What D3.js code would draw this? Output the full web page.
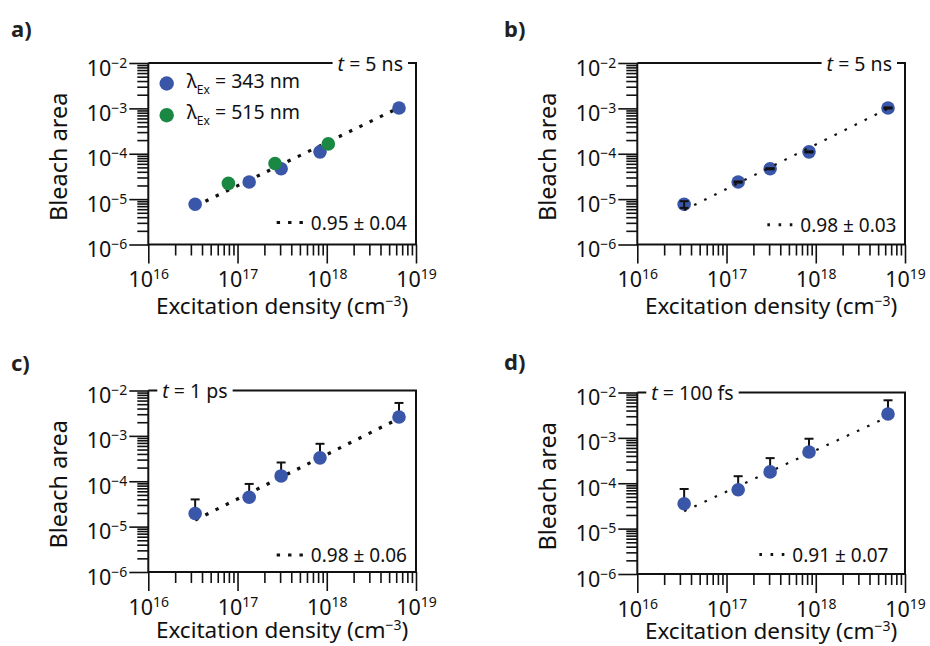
<!DOCTYPE html>
<html>
<head>
<meta charset="utf-8">
<script src="https://cdn.jsdelivr.net/npm/d3@7"></script>
<style>
  body { margin: 0; background: #fff; }
  svg { font-family: "Noto Sans", sans-serif; display: block; }
</style>
</head>
<body>
<div id="chart"></div>
<script>
// Excitation density (cm^-3) for the two pump wavelengths
const density343 = [3.35e16, 1.35e17, 3.08e17, 8.4e17, 6.45e18];
const density515 = [7.9e16, 2.63e17, 1.04e18];

// Bleach area at t = 5 ns (panels a and b)
const bleach5ns343 = [7.7e-6, 2.38e-5, 4.67e-5, 1.1e-4, 1.02e-3];
const bleach5ns515 = [2.22e-5, 6.1e-5, 1.65e-4];
const bleach5nsErr = [1.3e-6, 7e-7, 1.4e-6, 3.3e-6, 3e-5];

// Bleach area at t = 1 ps (panel c) and t = 100 fs (panel d), upper errors only
const bleach1ps = [1.95e-5, 4.43e-5, 1.31e-4, 3.28e-4, 2.61e-3];
const bleach1psErr = [2.03e-5, 4.3e-5, 1.28e-4, 3.41e-4, 2.71e-3];
const bleach100fs = [3.53e-5, 7.2e-5, 1.78e-4, 4.87e-4, 3.37e-3];
const bleach100fsErr = [3.95e-5, 7.1e-5, 1.8e-4, 4.7e-4, 3.37e-3];

// Power-law fits: log10(y) = intercept + slope * log10(x)
const fitSlopes = [0.95, 0.98, 0.98, 0.91];
const fitIntercepts = [-20.854, -21.436, -21.05, -19.654];
const fitLabels = ["0.95 ± 0.04", "0.98 ± 0.03", "0.98 ± 0.06", "0.91 ± 0.07"];

const panelLetters = ["a)", "b)", "c)", "d)"];
const delayValues = ["5 ns", "5 ns", "1 ps", "100 fs"];
const wavelengths = ["343", "515"];
const xTickPowers = [16, 17, 18, 19];
const yTickPowers = [-6, -5, -4, -3, -2];

const BLUE = "#3a56a8";
const GREEN = "#1a8843";

const width = 930, height = 646;
const plotW = 267.7, plotH = 181.5;

const svg = d3.select("#chart").append("svg")
  .attr("width", width).attr("height", height)
  .attr("viewBox", `0 0 ${width} ${height}`);
svg.append("rect").attr("width", width).attr("height", height).attr("fill", "#fff");

const isPower = (v) => Math.abs(Math.log10(v) - Math.round(Math.log10(v))) < 1e-9;
const pow10 = (p) => +("1e" + p);
const supText = (p) => (p < 0 ? "\u2212" + (-p) : "" + p);

function powerLabel(text, p) {
  text.text(null);
  text.append("tspan").text("10");
  text.append("tspan").attr("dy", -8).attr("font-size", 14).text(supText(p));
}

const panels = [
  { left: 148.3, top: 63, letterX: 11, letterY: 37, tAlign: "right", dash: "3.4 8", dashW: 3.2,
    series: [{ x: density343, y: bleach5ns343, color: BLUE }, { x: density515, y: bleach5ns515, color: GREEN }],
    legend: true, fitDy: 15, fitRight: 9, titleDy: 69 },
  { left: 637.3, top: 63, letterX: 504, letterY: 37, tAlign: "right", dash: "2.6 8.6", dashW: 2.2,
    series: [{ x: density343, y: bleach5ns343, color: BLUE, err: bleach5nsErr, both: true }],
    legend: false, fitDy: 12.7, fitRight: 8.5, titleDy: 69 },
  { left: 148.3, top: 390.5, letterX: 11, letterY: 371, tAlign: "left", dash: "3.4 8", dashW: 3.2,
    series: [{ x: density343, y: bleach1ps, color: BLUE, err: bleach1psErr }],
    legend: false, fitDy: 10, fitRight: 9, titleDy: 65.5 },
  { left: 637.3, top: 392.5, letterX: 504, letterY: 369.5, tAlign: "left", dash: "2.6 8.6", dashW: 2.2,
    series: [{ x: density343, y: bleach100fs, color: BLUE, err: bleach100fsErr }],
    legend: false, fitDy: 12.4, fitRight: 16.5, titleDy: 64.5 },
];

panels.forEach((cfg, i) => drawPanel(cfg, i));

function drawPanel(cfg, i) {
  const x = d3.scaleLog().domain([1e16, 1e19]).range([0, plotW]);
  const y = d3.scaleLog().domain([1e-6, 1e-2]).range([plotH, 0]);

  svg.append("text")
    .attr("x", cfg.letterX).attr("y", cfg.letterY)
    .attr("font-size", 22).attr("font-weight", "bold").attr("fill", "#231f20")
    .text(panelLetters[i]);

  const g = svg.append("g").attr("transform", `translate(${cfg.left},${cfg.top})`);

  // minor + major ticks
  const yMinor = d3.axisLeft(y).tickValues(y.ticks().filter((v) => !isPower(v))).tickSize(11).tickFormat("");
  const yMajor = d3.axisLeft(y).tickValues(yTickPowers.map(pow10)).tickSize(19).tickFormat("");
  const xMinor = d3.axisBottom(x).tickValues(x.ticks().filter((v) => !isPower(v))).tickSize(11).tickFormat("");
  const xMajor = d3.axisBottom(x).tickValues(xTickPowers.map(pow10)).tickSize(19).tickFormat("");

  const axes = [
    g.append("g").call(yMinor),
    g.append("g").call(yMajor),
    g.append("g").attr("transform", `translate(0,${plotH})`).call(xMinor),
    g.append("g").attr("transform", `translate(0,${plotH})`).call(xMajor),
  ];
  axes.forEach((a) => {
    a.select(".domain").remove();
    a.selectAll(".tick line").attr("stroke", "#111").attr("stroke-width", 1.6);
  });

  axes[1].selectAll(".tick text").each(function (d) {
    const t = d3.select(this);
    t.attr("x", -21).attr("dy", null).attr("y", 12).attr("font-size", 21.5)
      .attr("font-family", "Noto Sans").attr("fill", "#111");
    powerLabel(t, Math.round(Math.log10(d)));
  });
  axes[3].selectAll(".tick text").each(function (d) {
    const t = d3.select(this);
    t.attr("dy", null).attr("y", 42.5).attr("font-size", 21.5)
      .attr("font-family", "Noto Sans").attr("fill", "#111");
    powerLabel(t, Math.round(Math.log10(d)));
  });

  // frame
  g.append("path")
    .attr("d", `M0,0V${plotH}H${plotW}V0H0`)
    .attr("fill", "none").attr("stroke", "#111").attr("stroke-width", 2);

  // time-delay label breaking the top border
  const tText = g.append("text").attr("y", 7.5).attr("font-size", 19.5).attr("fill", "#111");
  tText.append("tspan").attr("font-style", "italic").text("t");
  tText.append("tspan").text(" = " + delayValues[i]);
  if (cfg.tAlign === "right") {
    tText.attr("text-anchor", "end").attr("x", plotW - 13);
  } else {
    tText.attr("x", 14);
  }
  const tb = tText.node().getBBox();
  g.insert("rect", function () { return tText.node(); })
    .attr("x", tb.x - 5).attr("y", -3).attr("width", tb.width + 10).attr("height", 6)
    .attr("fill", "#fff");

  // axis titles
  svg.append("text")
    .attr("transform", `translate(${cfg.left - 81.6},${cfg.top + plotH / 2 + 3}) rotate(-90)`)
    .attr("text-anchor", "middle").attr("font-size", 23.5).attr("fill", "#111")
    .text("Bleach area");
  const xt = svg.append("text")
    .attr("x", cfg.left + plotW / 2).attr("y", cfg.top + plotH + cfg.titleDy)
    .attr("text-anchor", "middle").attr("font-size", 22.5).attr("fill", "#111");
  xt.append("tspan").text("Excitation density (cm");
  xt.append("tspan").attr("dy", -8).attr("font-size", 14).text("\u22123");
  xt.append("tspan").attr("dy", 8).text(")");

  // fit line across the measured density range
  const xs = d3.extent(cfg.series[0].x);
  const fitY = (v) => Math.pow(10, fitIntercepts[i] + fitSlopes[i] * Math.log10(v));
  const line = d3.line().x((v) => x(v)).y((v) => y(fitY(v)));
  g.append("path")
    .attr("d", line(xs))
    .attr("fill", "none").attr("stroke", "#111")
    .attr("stroke-width", cfg.dashW).attr("stroke-dasharray", cfg.dash);

  // points and error bars
  cfg.series.forEach((s) => {
    const pts = s.x.map((v, k) => ({ x: v, y: s.y[k], e: s.err ? s.err[k] : null }));
    const bars = g.append("g").attr("stroke", "#111").attr("stroke-width", 2);
    const dots = g.append("g");
    if (s.both) dots.lower();
    pts.filter((p) => p.e != null).forEach((p) => {
      const cx = x(p.x);
      const yHi = y(p.y + p.e);
      const yLo = s.both ? y(p.y - p.e) : y(p.y);
      bars.append("line").attr("x1", cx).attr("x2", cx).attr("y1", yHi).attr("y2", yLo);
      bars.append("line").attr("x1", cx - 4.5).attr("x2", cx + 4.5).attr("y1", yHi).attr("y2", yHi);
      if (s.both) bars.append("line").attr("x1", cx - 4.5).attr("x2", cx + 4.5).attr("y1", yLo).attr("y2", yLo);
    });
    dots.selectAll("circle").data(pts).join("circle")
      .attr("cx", (p) => x(p.x)).attr("cy", (p) => y(p.y)).attr("r", 6.8)
      .attr("fill", s.color);
  });

  // fit legend
  const fitText = g.append("text")
    .attr("x", plotW - cfg.fitRight).attr("y", plotH - cfg.fitDy)
    .attr("text-anchor", "end").attr("font-size", 19).attr("fill", "#111")
    .text(fitLabels[i]);
  const fb = fitText.node().getBBox();
  const dashParts = cfg.dash.split(" ").map(Number);
  const sampleLen = dashParts[0] * 3 + dashParts[1] * 2;
  g.append("line")
    .attr("x1", fb.x - 8 - sampleLen).attr("x2", fb.x - 8)
    .attr("y1", plotH - cfg.fitDy - 7).attr("y2", plotH - cfg.fitDy - 7)
    .attr("stroke", "#111").attr("stroke-width", Math.max(cfg.dashW, 3))
    .attr("stroke-dasharray", cfg.dash);

  // wavelength legend (panel a)
  if (cfg.legend) {
    cfg.series.forEach((s, k) => {
      const cy = 20.5 + k * 31.7;
      g.append("circle").attr("cx", 18.4).attr("cy", cy).attr("r", 7.2).attr("fill", s.color);
      const lt = g.append("text").attr("x", 38.4).attr("y", cy + 4).attr("font-size", 19.5).attr("fill", "#111");
      lt.append("tspan").text("\u03bb");
      lt.append("tspan").attr("dy", 6).attr("font-size", 12).text("Ex");
      lt.append("tspan").attr("dy", -6).text(" = " + wavelengths[k] + " nm");
    });
  }
}
</script>
</body>
</html>
